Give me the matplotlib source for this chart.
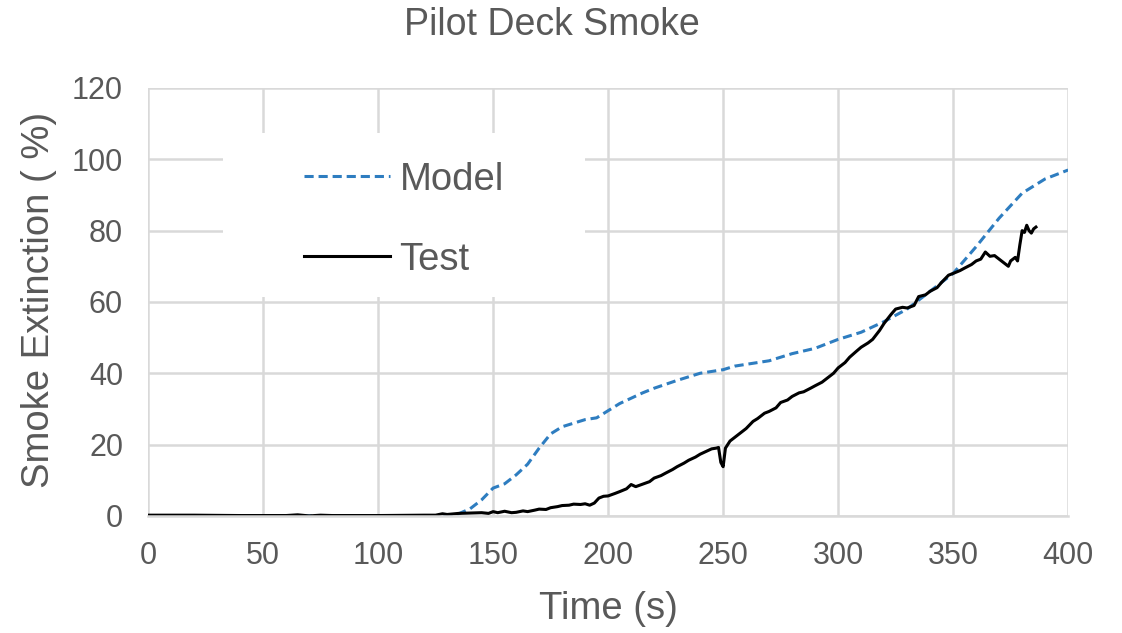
import matplotlib
matplotlib.use('Agg')
import matplotlib.pyplot as plt
from matplotlib.patches import Rectangle

plt.rcParams['font.family'] = ['Liberation Sans', 'DejaVu Sans']

# Pilot deck smoke extinction: model prediction vs. test measurement
model_t = [0, 50, 100, 125, 130, 135, 140, 145, 150, 155, 160, 165, 170, 175, 180,
           185, 190, 195, 200, 205, 210, 215, 220, 230, 240, 250, 255, 260, 270, 280,
           290, 300, 310, 320, 330, 340, 350, 360, 370, 380, 390, 400]
model_v = [0, 0, 0, 0, 0.1, 0.6, 2.0, 4.5, 7.8, 9.0, 11.5, 14.5, 19.0, 23.0, 25.0,
           26.0, 27.0, 27.5, 29.5, 31.5, 33.0, 34.5, 35.8, 38.0, 40.0, 41.0, 42.0, 42.5, 43.5, 45.5,
           47.0, 49.5, 51.5, 54.5, 58.0, 63.0, 68.0, 75.5, 83.5, 90.5, 94.5, 97.0]

test_t = [0, 20, 40, 60, 65, 70, 75, 80, 100, 120, 125, 128, 130, 135, 140, 145, 148,
          150, 152, 155, 158, 160, 163, 165, 168, 170, 173, 175, 178, 180, 183, 185, 188,
          190, 192, 194, 196, 198, 200, 203, 205, 208, 210, 212, 215, 218, 220, 223, 225,
          228, 230, 233, 235, 238, 240, 243, 245, 247, 248, 249, 250, 251, 253, 255, 258,
          260, 263, 265, 268, 270, 273, 275, 278, 280, 283, 285, 288, 290, 293, 295, 298,
          300, 303, 305, 308, 310, 313, 315, 318, 320, 323, 325, 328, 330, 333, 335, 338,
          340, 343, 345, 348, 350, 353, 355, 358, 360, 362, 364, 366, 368, 370, 372, 374,
          375, 377, 378, 379, 380, 381, 382, 383, 384, 385, 386]
test_v = [0.2, 0.2, 0.1, 0.1, 0.3, 0.0, 0.2, 0.1, 0.1, 0.2, 0.2, 0.6, 0.4, 0.7, 0.8, 0.9, 0.7,
          1.2, 0.9, 1.3, 0.9, 1.0, 1.4, 1.2, 1.6, 1.9, 1.8, 2.3, 2.6, 2.9, 3.0, 3.3, 3.2,
          3.4, 3.0, 3.6, 5.0, 5.5, 5.6, 6.3, 6.8, 7.6, 8.8, 8.2, 8.9, 9.6, 10.6, 11.3, 12.0,
          13.0, 13.8, 14.8, 15.6, 16.5, 17.3, 18.2, 18.8, 19.0, 19.2, 15.0, 13.8, 19.0, 21.0, 22.0, 23.5,
          24.5, 26.5, 27.3, 28.8, 29.3, 30.3, 31.8, 32.5, 33.5, 34.5, 34.8, 35.8, 36.5, 37.5, 38.5, 40.0,
          41.5, 43.0, 44.5, 46.2, 47.3, 48.5, 49.5, 52.0, 54.0, 56.5, 58.0, 58.5, 58.3, 59.0, 61.5, 62.0,
          63.0, 64.0, 65.5, 67.5, 68.0, 68.8, 69.5, 70.5, 71.5, 72.0, 74.0, 72.8, 73.0, 72.0, 71.0, 70.0,
          71.5, 72.5, 71.5, 76.0, 80.0, 79.5, 81.5, 80.0, 79.3, 80.5, 81.0]

x_ticks = [0, 50, 100, 150, 200, 250, 300, 350, 400]
y_ticks = [0, 20, 40, 60, 80, 100, 120]

text_grey = '#595959'
grid_grey = '#D9D9D9'

fig = plt.figure(figsize=(11.22, 6.33), dpi=100)
ax = fig.add_axes([0.132, 0.185, 0.82, 0.676])

ax.plot(model_t, model_v, color='#2E7DC0', linestyle=(0, (3, 1.6)), linewidth=2.2, label='Model')
ax.plot(test_t, test_v, color='black', linewidth=2.2, label='Test')

ax.set_xlim(0, 400)
ax.set_ylim(0, 120)
ax.set_xticks(x_ticks)
ax.set_yticks(y_ticks)
ax.tick_params(length=0, labelsize=22, labelcolor=text_grey, pad=18)
ax.grid(True, color=grid_grey, linewidth=1.8)
ax.set_axisbelow(True)
for side in ['top', 'right', 'left']:
    ax.spines[side].set_visible(False)
ax.spines['bottom'].set_color(grid_grey)
ax.spines['bottom'].set_linewidth(1.8)

ax.set_xlabel('Time (s)', fontsize=27.5, color=text_grey)
ax.xaxis.set_label_coords(0.5, -0.175)
ax.set_ylabel('Smoke Extinction ( %)', fontsize=27.5, color=text_grey)
ax.yaxis.set_label_coords(-0.099, 0.505)
fig.text(0.4915, 0.96, 'Pilot Deck Smoke', fontsize=27, color=text_grey,
         ha='center', va='center')

# white legend block hiding the grid behind it
ax.add_patch(Rectangle((0.0815, 0.512), 0.3935, 0.383, transform=ax.transAxes,
                       facecolor='white', edgecolor='none', zorder=1.5))
leg = ax.legend(loc='center', bbox_to_anchor=(0.278, 0.692), fontsize=27.5, frameon=False,
                handlelength=2.24, handletextpad=0.26, labelspacing=1.15, borderpad=0)
for txt in leg.get_texts():
    txt.set_color(text_grey)

fig.savefig('out.png', dpi=100)
